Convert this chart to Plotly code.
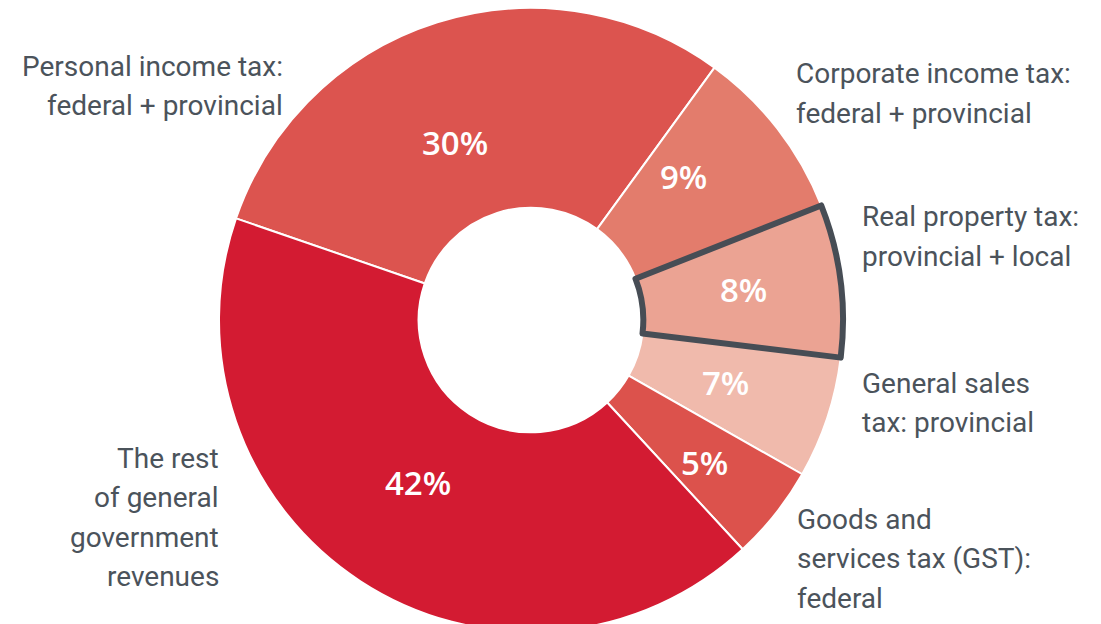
import plotly.graph_objects as go

categories = [
    "Personal income tax: federal + provincial",
    "Corporate income tax: federal + provincial",
    "Real property tax: provincial + local",
    "General sales tax: provincial",
    "Goods and services tax (GST): federal",
    "The rest of general government revenues",
]
shares = [29.7, 9.0, 7.9, 6.3, 4.9, 42.1]
pct_labels = ["30%", "9%", "8%", "7%", "5%", "42%"]
colors = ["#DC544F", "#E37C6C", "#EBA393", "#F0BAAC", "#DC524C", "#D31B32"]
highlight = [False, False, True, False, False, False]

outer_lines = [
    ["Personal income tax:", "federal + provincial"],
    ["Corporate income tax:", "federal + provincial"],
    ["Real property tax:", "provincial + local"],
    ["General sales", "tax: provincial"],
    ["Goods and", "services tax (GST):", "federal"],
    ["The rest", "of general", "government", "revenues"],
]

W, H = 1101, 624
cx, R = 523, 312
domain = dict(x=[(cx - R) / W, (cx + R) / W], y=[0, 1])
hole = 0.36
rotation = 289

fig = go.Figure()
fig.add_trace(go.Pie(
    labels=categories, values=shares, text=pct_labels,
    textinfo="none",
    marker=dict(colors=colors, line=dict(color="white", width=2)),
    hole=hole, sort=False, direction="clockwise", rotation=rotation,
    domain=domain, showlegend=False, hoverinfo="label+text",
))
# highlight outline for the real property tax slice
fig.add_trace(go.Pie(
    labels=categories, values=shares,
    textinfo="none",
    marker=dict(colors=["rgba(0,0,0,0)"] * len(shares),
                line=dict(color=["#474D55" if h else "rgba(0,0,0,0)" for h in highlight],
                          width=[6 if h else 0 for h in highlight])),
    hole=hole, sort=False, direction="clockwise", rotation=rotation,
    domain=domain, showlegend=False, hoverinfo="skip",
))

# percentage label placement (pixel centres of anchor)
pct_pos = [(447, 134), (675, 169), (735, 281), (717, 374), (696, 454), (410, 474)]
for txt, (px, py) in zip(pct_labels, pct_pos):
    fig.add_annotation(
        x=px / W, y=1 - py / H, xref="paper", yref="paper",
        text=txt, showarrow=False, xanchor="center", yanchor="middle",
        font=dict(family="Open Sans", size=33, color="white", weight=600),
    )

# outer labels: (x px, first line y px, anchor)
label_pos = [
    (277, 58, "right"),
    (786, 66, "left"),
    (852, 209, "left"),
    (852, 375, "left"),
    (787, 511, "left"),
    (213, 450, "right"),
]
line_gap = 39.5
font_family = "Roboto, sans-serif"
for lines, (px, py, anc) in zip(outer_lines, label_pos):
    for i, ln in enumerate(lines):
        fig.add_annotation(
            x=px / W, y=1 - (py + i * line_gap) / H, xref="paper", yref="paper",
            text=ln, showarrow=False, xanchor=anc, yanchor="middle", align=anc,
            font=dict(family=font_family, size=28, color="#4B535B"),
        )

fig.update_layout(
    width=W, height=H, margin=dict(l=0, r=0, t=0, b=0),
    paper_bgcolor="white", plot_bgcolor="white",
)
fig.write_html("out.html")
